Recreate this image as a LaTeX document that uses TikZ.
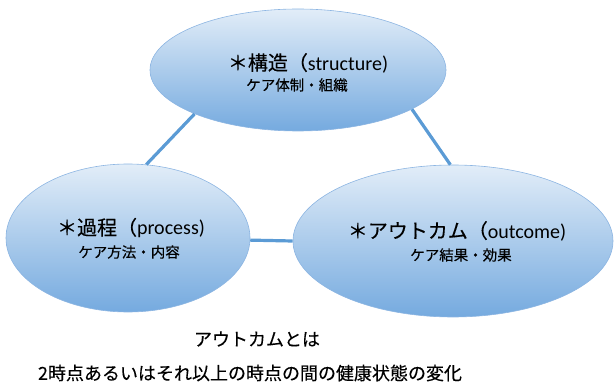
\documentclass[tikz,border=0pt]{standalone}
\usepackage{fontspec}
\setmainfont{Carlito}
\newfontfamily\jp[FakeBold=0.25]{Noto Sans CJK JP}
\usetikzlibrary{shapes.geometric}
\definecolor{ltop}{HTML}{E2EDF8}
\definecolor{lbot}{HTML}{75AADF}
\definecolor{edge}{HTML}{8CB5E2}
\definecolor{conn}{HTML}{5B9BD5}
\tikzset{
  bubble/.style={ellipse, inner sep=0pt, top color=ltop, bottom color=lbot, draw=edge, line width=0.6pt},
  title/.style={font=\fontsize{20}{22}\selectfont, inner sep=0pt, anchor=center},
  sub/.style={font=\jp\fontsize{14.5}{16}\selectfont, inner sep=0pt, anchor=center},
  note/.style={font=\jp\fontsize{18}{20}\selectfont, inner sep=0pt, anchor=center},
  link/.style={draw=conn, line width=3.2pt}
}
\begin{document}
\begin{tikzpicture}[x=1pt,y=-1pt]
\useasboundingbox (0,0) rectangle (616,385);
\node[bubble, minimum width=296pt, minimum height=122pt] (top) at (298,70) {};
\node[bubble, minimum width=244pt, minimum height=148pt] (left) at (128,238) {};
\node[bubble, minimum width=320pt, minimum height=152pt] (right) at (453,241) {};
\draw[link] (top.203) -- (left.76);
\draw[link] (top.341) -- (right.92);
\draw[link] (left.-1.5) -- (right.180);
\node[title] (t1) at (308,63) {{\jp ＊構造（}structure)};
\node[sub] (t2) at (297,85) {ケア体制・組織};
\node[title] (l1) at (131,228) {{\jp ＊過程（}process)};
\node[sub] (l2) at (129,252) {ケア方法・内容};
\node[title] (r1) at (457,231) {{\jp ＊アウトカム（}outcome)};
\node[sub] (r2) at (461,255) {ケア結果・効果};
\node[note] (n1) at (257,339) {アウトカムとは};
\node[note] (n2) at (250,373) {2時点あるいはそれ以上の時点の間の健康状態の変化};
\end{tikzpicture}
\end{document}
